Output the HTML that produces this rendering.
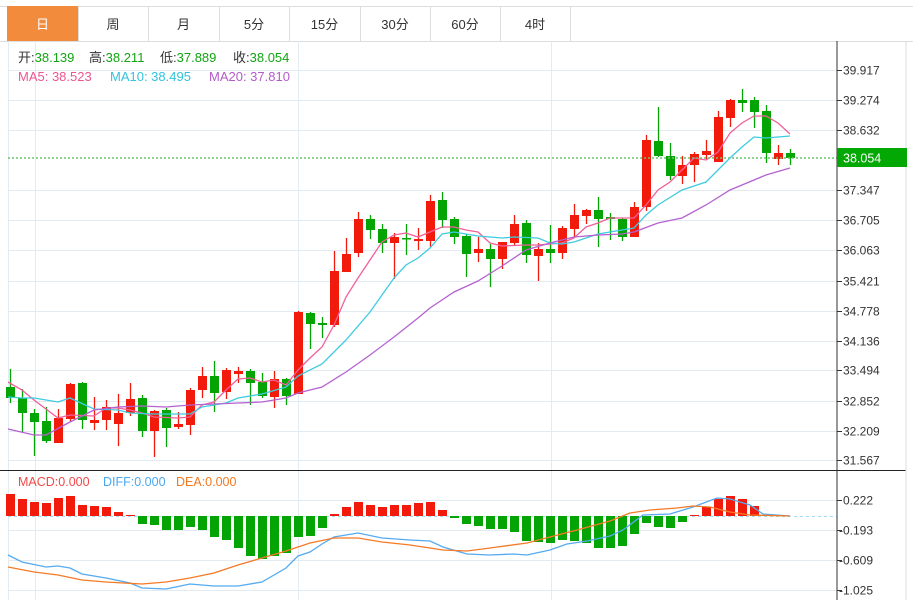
<!DOCTYPE html>
<html><head><meta charset="utf-8"><style>
html,body{margin:0;padding:0;background:#fff;}
body{width:913px;height:600px;overflow:hidden;position:relative;font-family:"Liberation Sans","Noto Sans CJK SC",sans-serif;}
svg{position:absolute;left:0;top:0;}
</style></head><body>
<svg id="s" width="913" height="600" xmlns="http://www.w3.org/2000/svg" font-family="Liberation Sans, Noto Sans CJK SC, sans-serif">
<rect x="0" y="0" width="913" height="600" fill="#fff"/>
<g id="tabs"></g>
<g id="grid" stroke="#e3ebf2" stroke-width="1"></g>
<g id="c"></g>
<g id="lines" fill="none" stroke-width="1.3"></g>
<line x1="8" y1="158" x2="837" y2="158" stroke="#6cc36c" stroke-width="1.5" stroke-dasharray="2,2"/>
<line x1="837" y1="41" x2="837" y2="600" stroke="#333"/>
<line x1="0" y1="470.5" x2="906" y2="470.5" stroke="#222"/>
<line x1="906" y1="41" x2="906" y2="600" stroke="#ddd"/>
<g id="ax" font-size="12" fill="#333"></g>
<rect x="837" y="148" width="70" height="19" fill="#04a804"/>
<text x="843" y="162.5" font-size="12.5" fill="#fff">38.054</text>
<g font-size="13" fill="#333">
<text x="18" y="62">开:<tspan fill="#12a512">38.139</tspan></text>
<text x="89" y="62">高:<tspan fill="#12a512">38.211</tspan></text>
<text x="160" y="62">低:<tspan fill="#12a512">37.889</tspan></text>
<text x="233" y="62">收:<tspan fill="#12a512">38.054</tspan></text>
</g>
<text x="18" y="81" font-size="13" fill="#ee5590">MA5: 38.523</text>
<text x="110" y="81" font-size="13" fill="#33c3dd">MA10: 38.495</text>
<text x="209" y="81" font-size="13" fill="#b35cc8">MA20: 37.810</text>
<text x="18" y="486" font-size="12.5" fill="#ef4a4a">MACD:0.000</text>
<text x="103" y="486" font-size="12.5" fill="#4aa8f0">DIFF:0.000</text>
<text x="176" y="486" font-size="12.5" fill="#f07a22">DEA:0.000</text>
</svg>
<script>
var NS="http://www.w3.org/2000/svg";
function el(p,t,a,txt){var e=document.createElementNS(NS,t);for(var k in a)e.setAttribute(k,a[k]);if(txt!=null)e.textContent=txt;document.getElementById(p).appendChild(e);return e;}
var tb=[7,78,148,219,289,360,430,500,570],tn=["日","周","月","5分","15分","30分","60分","4时"];
el("tabs","line",{x1:0,y1:6.5,x2:913,y2:6.5,stroke:"#ddd"});
el("tabs","line",{x1:0,y1:41.5,x2:913,y2:41.5,stroke:"#ddd"});
for(var i=0;i<8;i++){
 if(i==0)el("tabs","rect",{x:tb[0],y:6,width:tb[1]-tb[0],height:35,fill:"#f28c3c"});
 el("tabs","line",{x1:tb[i+1]+.5,y1:6,x2:tb[i+1]+.5,y2:41,stroke:"#ddd"});
 el("tabs","text",{x:(tb[i]+tb[i+1])/2,y:29,"text-anchor":"middle","font-size":"13",fill:i==0?"#fff":"#333"},tn[i]);
}
var py=[70,100,130,190,220,250,281,311,341,370,401,431,460],pl=["39.917","39.274","38.632","37.347","36.705","36.063","35.421","34.778","34.136","33.494","32.852","32.209","31.567"];
py.forEach(function(y,k){el("grid","line",{x1:8,y1:y+.5,x2:837,y2:y+.5});el("ax","line",{x1:837,y1:y+.5,x2:842,y2:y+.5,stroke:"#333"});el("ax","text",{x:843,y:y+4.5},pl[k]);});
var my=[500,530,560,590],ml=["0.222","-0.193","-0.609","-1.025"];
my.forEach(function(y,k){el("grid","line",{x1:8,y1:y+.5,x2:837,y2:y+.5});el("ax","line",{x1:837,y1:y+.5,x2:842,y2:y+.5,stroke:"#333"});el("ax","text",{x:k?839:843,y:y+4.5},ml[k]);});
[8,35,298,551].forEach(function(x){el("grid","line",{x1:x+.5,y1:41,x2:x+.5,y2:600});});
el("grid","line",{x1:8,y1:516.5,x2:837,y2:516.5,stroke:"#a8d8f0","stroke-dasharray":"3,3"});
var C=[
"g387,398,369,403","g398,413,389,432","g413,422,409,456","g421,441,407,443","r418,443,409,443","r384,419,383,421","g383,420,382,429","r420,423,397,430","r407,420,400,430","r413,424,394,446",
"r399,413,383,416","g398,431,395,437","r411,431,410,457","g410,428,408,447","r424,427,412,429","r390,425,388,435","r376,390,367,398","g376,393,361,412","r370,392,368,399","r371,374,367,383",
"g371,383,369,405","g382,396,373,398","r379,397,371,408","g379,396,378,405","r312,394,311,394","g313,324,312,349","g323,325,317,338","r271,325,251,327","r254,272,238,272","r219,253,212,257",
"g219,230,215,239","g229,243,224,253","r237,243,233,279","g238,239,224,255","r239,241,228,250","r201,241,195,247","g200,220,192,228","g219,237,217,244","g236,254,234,277","r249,253,237,262",
"g249,259,244,287","r242,259,242,269","r224,243,215,245","g223,255,220,263","r249,256,243,281","g249,253,225,263","r228,253,226,259","r215,229,204,237","r210,216,209,224","g210,219,197,247",
"g217,219,213,240","g219,237,218,241","r207,237,202,237","r140,207,135,211","g141,156,107,157","g156,176,143,180","r165,176,156,184","r154,165,152,182","r151,155,140,160","r117,162,111,162",
"r100,118,99,127","g100,103,89,112","g100,112,97,128","g111,153,105,163","r153,159,145,165","g153,158,149,165"];
var RED="#f21a0a",GRN="#04a404";
C.forEach(function(s,i){var col=s[0]=="r"?RED:GRN;var v=s.slice(1).split(",").map(Number);var x=10.5+12*i;
 el("c","line",{x1:x,y1:v[2],x2:x,y2:v[3],stroke:col,"stroke-width":1.3});
 el("c","rect",{x:x-4.5,y:v[0],width:9,height:Math.max(1.5,v[1]-v[0]),fill:col});});
var M=[494,499,502,503,498,496,505,506,507,512,515,524,525,530,530,527,530,537,540,548,556,559,556,553,537,536,528,514,507,502,505,507,505,505,503,502,510,518,524,526,529,529,532,541,542,543,540,541,543,548,548,546,534,523,527,528,522,515,507,499,496,499,506];
M.forEach(function(y,i){var x=10.5+12*i;var t=Math.min(y,516),h=Math.abs(y-516);if(h<1)h=1;el("c","rect",{x:x-4.5,y:t,width:9,height:h,fill:y<516?RED:GRN});});
function pl2(pts,col){el("lines","polyline",{points:pts,stroke:col});}
pl2("8,382 22,390 34,400 58,418 70,415 94,416 106,408 118,408 130,410 142,413 154,417 178,418 190,417 202,405 214,402 226,390 238,379 250,378 262,382 274,380 286,385 298,370 310,358 322,347 334,325 346,297 358,278 370,260 382,242 394,235 406,233 418,237 430,232 442,227 454,227 466,230 478,232 490,243 502,246 526,245 538,245 550,244 562,243 574,238 586,227 598,223 610,218 634,218 646,205 658,190 670,182 682,170 694,158 706,160 718,152 730,133 742,123 754,116 766,116 778,123 790,134","#f0609a");
pl2("8,397 22,398 34,398 58,402 70,398 94,409 118,410 130,413 154,414 190,414 202,407 226,403 238,398 262,394 286,387 298,376 322,364 346,340 370,312 394,278 406,265 418,258 430,248 442,234 454,232 478,236 502,238 514,237 538,238 550,243 562,244 574,242 598,234 610,232 634,228 646,215 658,205 682,190 706,182 730,158 742,147 754,137 766,138 790,136","#3fcbe0");
pl2("8,429 34,435 46,435 70,422 94,410 118,407 142,406 166,407 190,405 238,403 262,402 286,398 298,393 322,387 346,372 370,355 394,337 418,318 430,308 454,292 478,281 502,266 526,250 550,243 574,237 598,235 622,234 634,232 658,223 682,218 706,205 730,190 742,185 766,175 790,168","#b562d0");
pl2("8,555 22,562 46,567 58,566 70,568 82,574 106,578 130,583 142,588 166,589 190,584 214,586 238,586 262,582 286,568 298,556 310,552 322,544 334,537 358,533 382,538 410,540 430,541 443,547 467,554 490,555 513,554 527,555 550,550 567,544 587,541 610,536 623,530 643,515 670,514 693,507 717,498 730,499 750,505 763,514 790,516","#55aaf0");
pl2("8,567 34,572 58,575 82,580 106,582 142,584 166,582 190,578 214,573 238,565 262,558 286,551 310,543 334,538 358,538 382,542 410,545 443,550 467,551 490,548 527,543 550,537 577,530 610,521 630,513 650,510 677,508 693,506 710,507 730,512 750,515 790,516","#f57a25");
</script>
</body></html>
